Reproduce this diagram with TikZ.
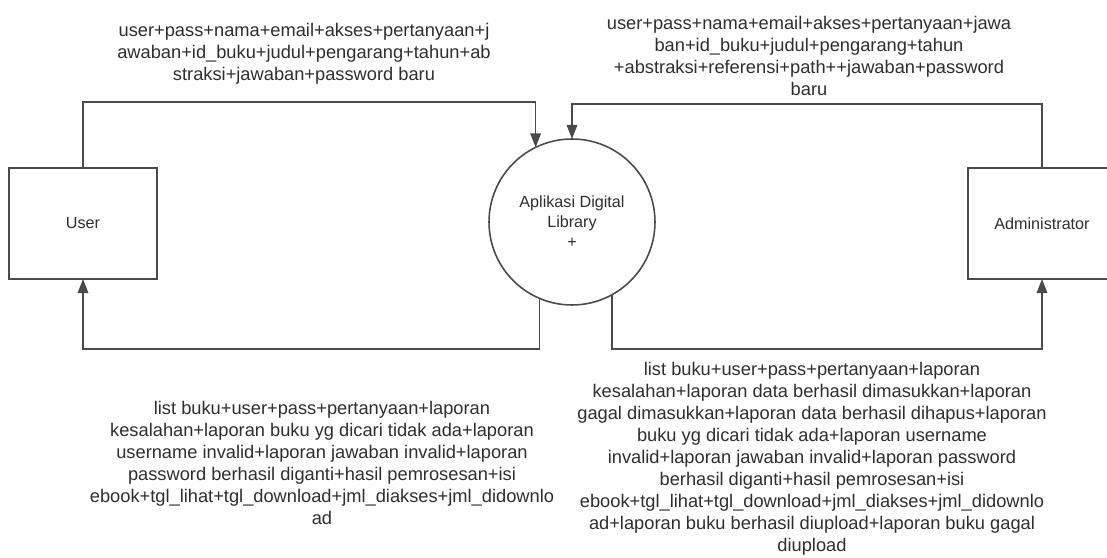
\documentclass[tikz,border=0pt]{standalone}
\usepackage{fontspec}
\setmainfont{Liberation Sans}
\usepackage{tikz}
\usetikzlibrary{arrows.meta,shapes,calc}
\usetikzlibrary{positioning}
\definecolor{garis}{HTML}{4A4A4A}
\definecolor{teks}{HTML}{2E2E2E}
\tikzstyle{ent}=[draw=garis,rectangle,line width=0.9pt,minimum width=2.96cm,
                minimum height=2.22cm,outer sep=0,text=teks,
                font=\fontsize{9.2}{11.3}\selectfont]
\tikzstyle{proses}=[draw=garis,circle,line width=0.9pt,minimum size=3.32cm,
                outer sep=0,inner sep=0,align=center,text=teks,
                font=\fontsize{9.2}{11.3}\selectfont]
\tikzstyle{aliran}=[draw=garis,line width=0.9pt,
                -{Triangle[length=8pt,width=6pt]}]
\tikzstyle{ket}=[align=center,text=teks,inner sep=0,
                font=\fontsize{10.4}{12.5}\selectfont]

\begin{document}
\begin{tikzpicture}[x=0.02cm,y=0.02cm]
\useasboundingbox (0,0) rectangle (1107,558);
\clip (0,0) rectangle (1107,558);
\node[ent] (user) at (83,334.5) {User};
\node[ent] (admin) at (1042,334.5) {Administrator};
\node[proses] (apl) at (572,336) {Aplikasi Digital\\Library\\+};
% aliran masuk
\draw[aliran] (user.north) -- ++(0,66) -| (apl.116);
\draw[aliran] (admin.north) -- ++(0,64) -| (apl.north);
% aliran keluar
\draw[aliran] (apl.247) |- ($(user.south)+(0,-70)$) -- (user.south);
\draw[aliran] (apl.299) |- ($(admin.south)+(0,-70)$) -- (admin.south);
% keterangan
\node[ket] (kUser) at (304,504) {user+pass+nama+email+akses+pertanyaan+j\\
awaban+id\_buku+judul+pengarang+tahun+ab\\
straksi+jawaban+password baru};
\node[ket] (kAdmin) at (809,502) {user+pass+nama+email+akses+pertanyaan+jawa\\
ban+id\_buku+judul+pengarang+tahun\\
+abstraksi+referensi+path++jawaban+password\\
baru};
\node[ket] (kKeUser) at (322,95) {list buku+user+pass+pertanyaan+laporan\\
kesalahan+laporan buku yg dicari tidak ada+laporan\\
username invalid+laporan jawaban invalid+laporan\\
password berhasil diganti+hasil pemrosesan+isi\\
ebook+tgl\_lihat+tgl\_download+jml\_diakses+jml\_didownlo\\
ad};
\node[ket] (kKeAdmin) at (812,99) {list buku+user+pass+pertanyaan+laporan\\
kesalahan+laporan data berhasil dimasukkan+laporan\\
gagal dimasukkan+laporan data berhasil dihapus+laporan\\
buku yg dicari tidak ada+laporan username\\
invalid+laporan jawaban invalid+laporan password\\
berhasil diganti+hasil pemrosesan+isi\\
ebook+tgl\_lihat+tgl\_download+jml\_diakses+jml\_didownlo\\
ad+laporan buku berhasil diupload+laporan buku gagal\\
diupload};
\end{tikzpicture}
\end{document}
